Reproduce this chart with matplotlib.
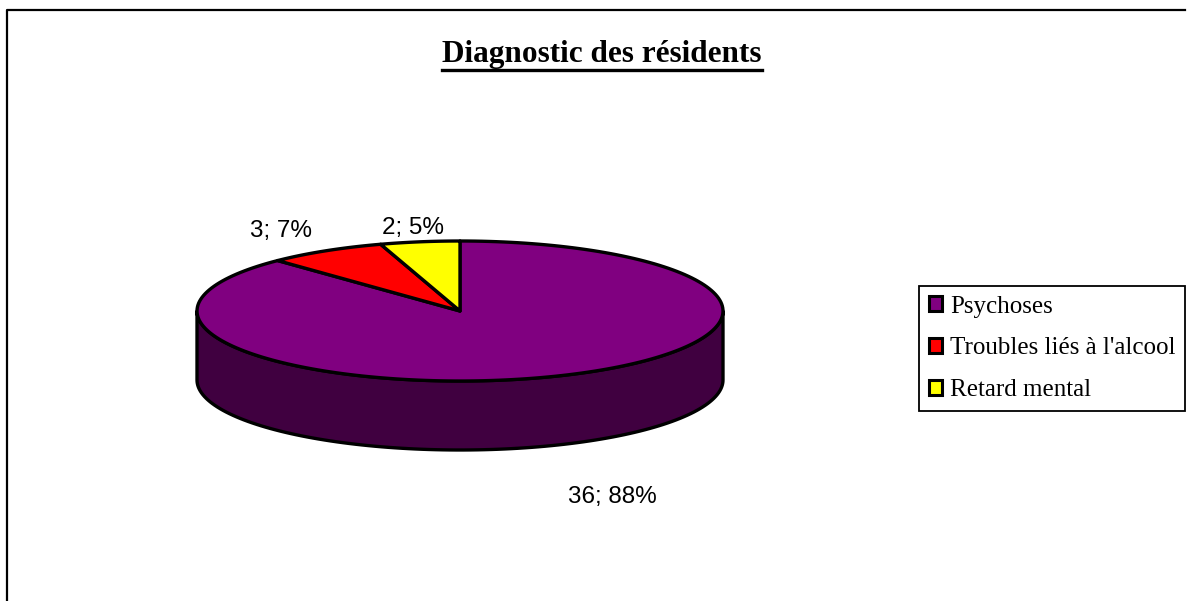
import numpy as np
import matplotlib
matplotlib.use("Agg")
import matplotlib.pyplot as plt
from matplotlib.patches import Polygon, Patch
from matplotlib.lines import Line2D

# data
categories = ["Psychoses", "Troubles liés à l'alcool", "Retard mental"]
values = [36, 3, 2]
top_colors = ["#800080", "#FF0000", "#FFFF00"]
side_colors = ["#400040", "#800000", "#808000"]
title = "Diagnostic des résidents"

# layout (pixels)
W, H = 1190, 601
cx, cy = 460, 311        # centre of the top face
rx, ry = 263, 70         # ellipse radii
depth = 69               # thickness of the pie
label_pos = [(612, 497), (281, 231), (413, 228)]

fig = plt.figure(figsize=(W / 100, H / 100), dpi=100)
ax = fig.add_axes([0, 0, 1, 1])
ax.set_xlim(0, W)
ax.set_ylim(H, 0)
ax.axis("off")


def ell(theta_deg, dy=0):
    # theta measured clockwise from 12 o'clock
    t = np.radians(theta_deg)
    return cx + rx * np.sin(t), cy - ry * np.cos(t) + dy


total = sum(values)
bounds = np.concatenate([[0], np.cumsum(values) / total * 360])

# side wall: only the front half (90 -> 270 deg) is visible
for i in range(len(values)):
    a0 = max(bounds[i], 90)
    a1 = min(bounds[i + 1], 270)
    if a1 <= a0:
        continue
    th = np.linspace(a0, a1, 120)
    xt, yt = ell(th)
    xb, yb = ell(th[::-1], depth)
    pts = np.column_stack([np.concatenate([xt, xb]), np.concatenate([yt, yb])])
    ax.add_patch(Polygon(pts, closed=True, fc=side_colors[i], ec="black",
                         lw=2.4, joinstyle="round"))

# top face wedges
for i in range(len(values)):
    th = np.linspace(bounds[i], bounds[i + 1], 200)
    xs, ys = ell(th)
    pts = np.column_stack([np.concatenate([[cx], xs]), np.concatenate([[cy], ys])])
    ax.add_patch(Polygon(pts, closed=True, fc=top_colors[i], ec="black",
                         lw=2.4, joinstyle="round"))

# data labels "value; pct%"
for v, (lx, ly) in zip(values, label_pos):
    ax.text(lx, ly, f"{v}; {round(v / total * 100)}%", ha="center", va="center",
            fontsize=17.5, family="Liberation Sans")

# title, underlined
t = ax.text(602, 62, title, ha="center", va="baseline", fontsize=22.5,
            fontweight="bold", family="Liberation Serif")
fig.canvas.draw()
bb = t.get_window_extent().transformed(ax.transData.inverted())
ax.add_line(Line2D([bb.x0, bb.x1], [70, 70], color="black", lw=2.4))

# chart frame (left and top edges)
ax.add_line(Line2D([6.5, 6.5, 1185], [H, 10, 10], color="black", lw=1.6))

handles = [Patch(fc=c, ec="black", lw=2.2) for c in top_colors]
leg = ax.legend(handles, categories, loc="upper left",
                bbox_to_anchor=(919, 286), bbox_transform=ax.transData,
                borderaxespad=0, fancybox=False, edgecolor="black",
                framealpha=1, handlelength=0.55, handleheight=0.55,
                handletextpad=0.3, labelspacing=0.8, borderpad=0.38,
                prop={"family": "Liberation Serif", "size": 18})
leg.get_frame().set_linewidth(1.3)

fig.savefig("out.png", dpi=100)
